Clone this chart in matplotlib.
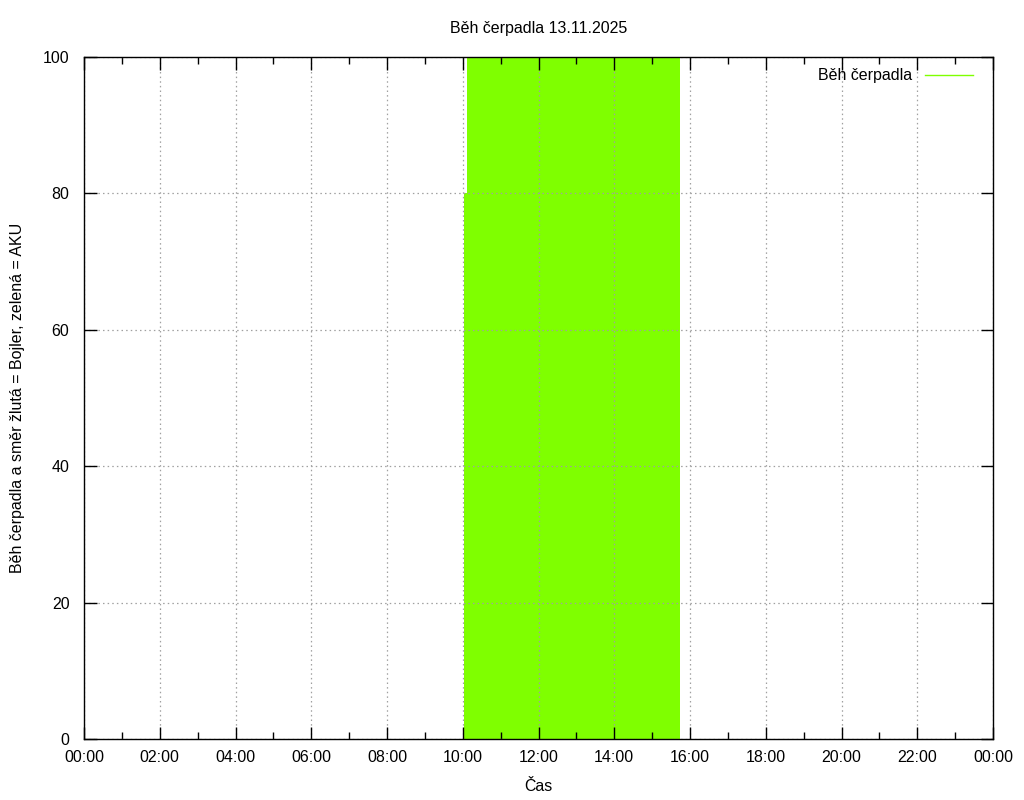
import matplotlib
matplotlib.use('Agg')
import matplotlib.pyplot as plt
from matplotlib.ticker import MultipleLocator, FuncFormatter

plt.rcParams['font.family'] = ['Liberation Sans', 'DejaVu Sans']
plt.rcParams['font.size'] = 11.5

# pump running, hours of day -> level (step, post)
run_hours = [10.02, 10.10, 15.74]
run_levels = [80, 100, 100]

title = 'Běh čerpadla 13.11.2025'
xlabel = 'Čas'
ylabel = 'Běh čerpadla a směr žlutá = Bojler, zelená = AKU'
green = '#7fff00'

fig = plt.figure(figsize=(10.24, 8), dpi=100)
ax = fig.add_axes([84 / 1024, 1 - 739 / 800, 909 / 1024, 682 / 800])

ax.fill_between(run_hours, 0, run_levels, step='post', color=green, lw=0, zorder=2)
ax.plot([], [], color=green, lw=1, label='Běh čerpadla')

ax.set_xlim(0, 24)
ax.set_ylim(0, 100)
ax.xaxis.set_major_locator(MultipleLocator(2))
ax.xaxis.set_minor_locator(MultipleLocator(1))
ax.yaxis.set_major_locator(MultipleLocator(20))
ax.xaxis.set_major_formatter(FuncFormatter(lambda v, p: '%02d:00' % (int(v) % 24) if v < 24 else '00:00'))

ax.tick_params(which='both', direction='in', top=True, right=True, colors='black')
ax.tick_params(axis='x', pad=8)
ax.tick_params(axis='y', pad=10.5)
ax.tick_params(which='major', length=9, width=1)
ax.tick_params(which='minor', length=5, width=1)
ax.grid(True, which='major', color='#a0a0a0', linestyle=(0, (1.2, 2.5)), lw=0.9, zorder=1)
ax.set_axisbelow(False)
for s in ax.spines.values():
    s.set_linewidth(1)
    s.set_zorder(5)

ax.set_title(title, pad=17, fontsize=11.5)
ax.set_xlabel(xlabel, labelpad=10)
ax.set_ylabel(ylabel, labelpad=12.5)

leg = ax.legend(loc='upper right', bbox_to_anchor=(0.990, 1.0), frameon=False,
                markerfirst=False, handlelength=3.0, borderaxespad=0.3, handletextpad=0.8)

fig.savefig('out.png', dpi=100)
